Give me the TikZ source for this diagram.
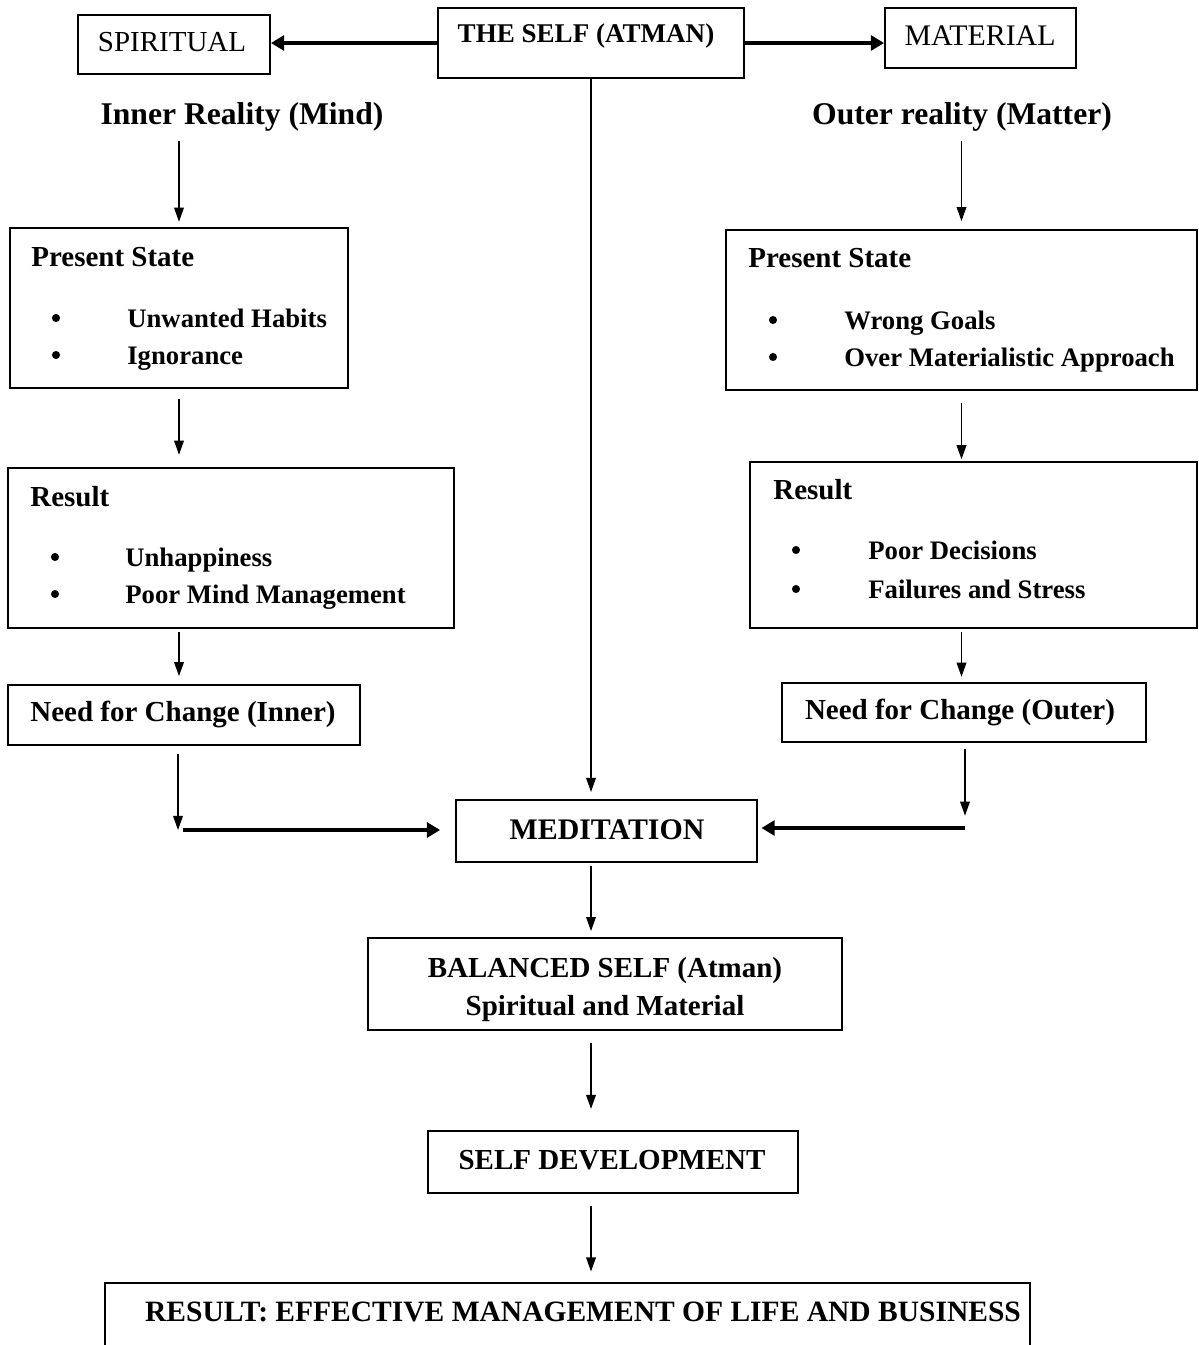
\documentclass[tikz,border=0pt]{standalone}
\usepackage{fontspec}
\setmainfont{Liberation Serif}
\usepackage{tikz}
\usetikzlibrary{arrows.meta,positioning,calc,fit}

\begin{document}
\begin{tikzpicture}[
  x=0.02cm, y=-0.02cm,
  box/.style={draw, line width=1.1pt, inner sep=0pt},
  txt/.style={font=\fontsize{16.5}{20}\selectfont\bfseries, inner sep=0pt, anchor=base},
  ltxt/.style={txt, anchor=base west},
  itm/.style={font=\fontsize{15.2}{18}\selectfont\bfseries, inner sep=0pt, anchor=base west},
  plain/.style={font=\fontsize{16.5}{20}\selectfont, inner sep=0pt, anchor=base},
  head/.style={font=\fontsize{18}{22}\selectfont\bfseries, inner sep=0pt, anchor=base},
  dot/.style={circle, fill, inner sep=0pt, minimum size=4.6pt},
  arr/.style={line width=0.8pt, -{Triangle[length=8pt,width=5.5pt]}},
  warr/.style={line width=1.9pt, -{Triangle[length=7.5pt,width=8.5pt]}}
]
\useasboundingbox (0,0) rectangle (1199,1345);

\node[box, fit={(438,8) (744,78)}] (self) {};
\node[txt, font=\fontsize{15.4}{19}\selectfont\bfseries] (selftxt) at (586,43) {THE SELF (ATMAN)};
\node[box, fit={(78,15) (270,74)}] (spir) {};
\node[plain] (spirtxt) at (172,52) {SPIRITUAL};
\node[box, fit={(885,8) (1076,68)}] (mat) {};
\node[plain, font=\fontsize{17}{20}\selectfont] (mattxt) at (980,46) {MATERIAL};
\draw[warr] (self.west) -- (self.west -| spir.east);
\draw[warr] (self.east) -- (self.east -| mat.west);

\node[head] (inner) at (242,125) {Inner Reality (Mind)};
\node[head] (outer) at (962,125) {Outer reality (Matter)};

\node[box, fit={(10,228) (348,388)}] (psl) {};
\node[ltxt] (psltitle) at (31,266) {Present State};
\node[dot] (psldota) at (56,318) {};
\node[itm] (psla) at (127,327) {Unwanted Habits};
\node[dot] (psldotb) at (56,355) {};
\node[itm] (pslb) at (127,364) {Ignorance};

\node[box, fit={(8,468) (454,628)}] (resl) {};
\node[ltxt] (resltitle) at (30,506) {Result};
\node[dot] (resldota) at (55,557) {};
\node[itm] (resla) at (125,566) {Unhappiness};
\node[dot] (resldotb) at (55,594) {};
\node[itm] (reslb) at (125,603) {Poor Mind Management};

\node[box, fit={(8,685) (360,745)}] (ncl) {};
\node[txt] (ncltxt) at (183,721) {Need for Change (Inner)};

\node[box, fit={(726,230) (1197,390)}] (psr) {};
\node[ltxt] (psrtitle) at (748,267) {Present State};
\node[dot] (psrdota) at (773,320) {};
\node[itm] (psra) at (844,329) {Wrong Goals};
\node[dot] (psrdotb) at (773,357) {};
\node[itm] (psrb) at (844,366) {Over Materialistic Approach};

\node[box, fit={(750,462) (1197,628)}] (resr) {};
\node[ltxt] (resrtitle) at (773,499) {Result};
\node[dot] (resrdota) at (796,550) {};
\node[itm] (resra) at (868,559) {Poor Decisions};
\node[dot] (resrdotb) at (796,589) {};
\node[itm] (resrb) at (868,598) {Failures and Stress};

\node[box, fit={(782,683) (1146,742)}] (ncr) {};
\node[txt] (ncrtxt) at (960,719) {Need for Change (Outer)};

\node[box, fit={(456,800) (757,862)}] (med) {};
\node[txt, font=\fontsize{17}{20}\selectfont\bfseries] (medtxt) at (607,839) {MEDITATION};
\node[box, fit={(368,938) (842,1030)}] (bal) {};
\node[txt] (balA) at (605,977) {BALANCED SELF (Atman)};
\node[txt] (balB) at (605,1015) {Spiritual and Material};
\node[box, fit={(428,1131) (798,1193)}] (sdev) {};
\node[txt] (sdevtxt) at (612,1169) {SELF DEVELOPMENT};
\node[box, fit={(105,1283) (1030,1370)}] (final) {};
\node[txt, font=\fontsize{16.8}{20}\selectfont\bfseries] (finaltxt) at (583,1321) {RESULT: EFFECTIVE MANAGEMENT OF LIFE AND BUSINESS};

\coordinate (ljoin) at (178,830);
\coordinate (rjoin) at (965,828);

\draw[arr, shorten <=5pt, shorten >=3pt] (psl.north |- inner.south) -- (psl.north);
\draw[arr, shorten <=5.7pt, shorten >=7pt] (psl.south) -- (psl.south |- resl.north);
\draw[arr, shorten <=2pt, shorten >=4.5pt] (psl.south |- resl.south) -- (psl.south |- ncl.north);
\draw[arr, shorten <=4.5pt] (ncl.south -| ljoin) -- (ljoin);
\draw[warr, shorten <=3pt, shorten >=8.5pt] (ljoin) -- (ljoin -| med.west);

\draw[arr, shorten <=5pt, shorten >=4.5pt] (psr.north |- outer.south) -- (psr.north);
\draw[arr, shorten <=7pt, shorten >=1pt] (psr.south) -- (psr.south |- resr.north);
\draw[arr, shorten <=2pt, shorten >=3pt] (psr.south |- resr.south) -- (psr.south |- ncr.north);
\draw[arr, shorten <=3.4pt, shorten >=7pt] (ncr.south -| rjoin) -- (rjoin);
\draw[warr, shorten >=2pt] (rjoin) -- (rjoin -| med.east);

\draw[arr, shorten >=4pt] (self.south) -- (self.south |- med.north);
\draw[arr, shorten <=2pt, shorten >=3.4pt] (self.south |- med.south) -- (self.south |- bal.north);
\draw[arr, shorten <=7pt, shorten >=12pt] (self.south |- bal.south) -- (self.south |- sdev.north);
\draw[arr, shorten <=7pt, shorten >=6pt] (self.south |- sdev.south) -- (self.south |- final.north);
\end{tikzpicture}
\end{document}
